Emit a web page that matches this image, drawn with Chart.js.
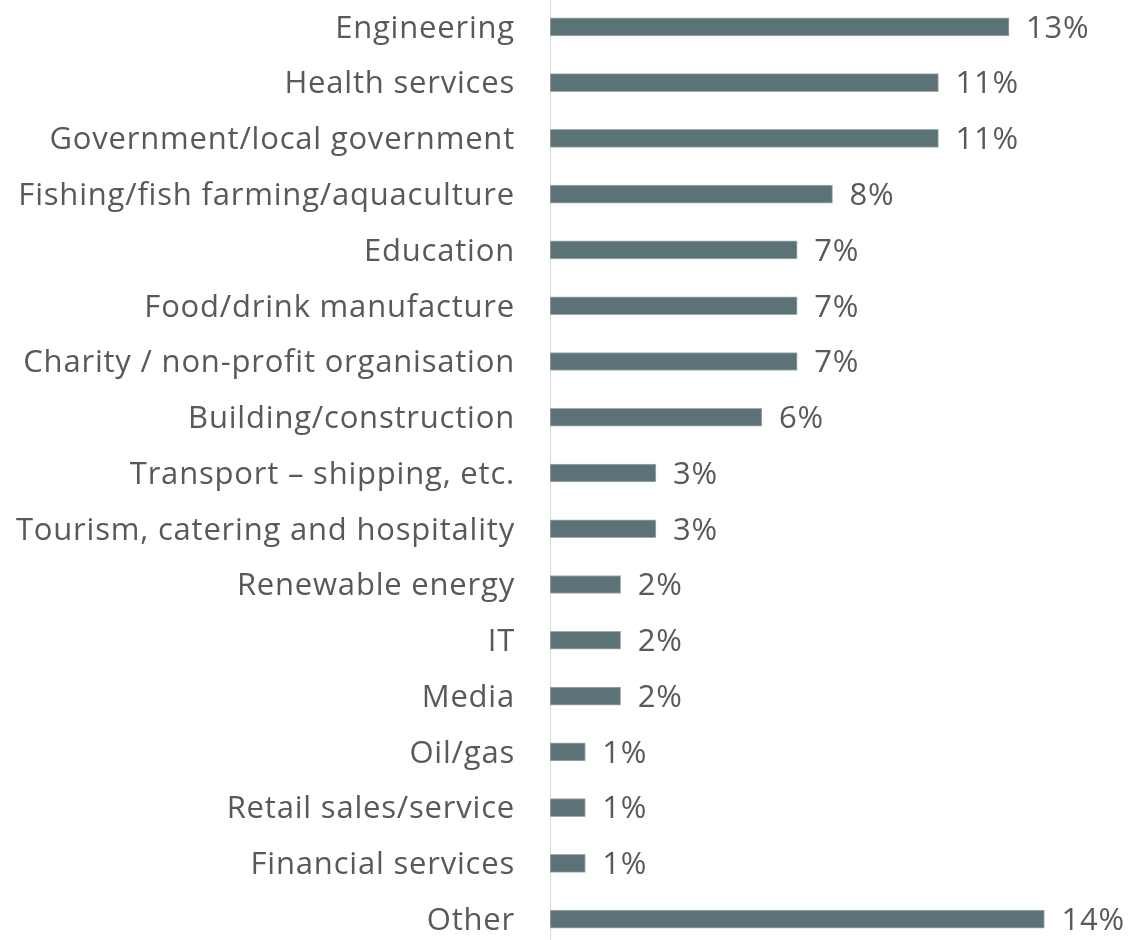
<!DOCTYPE html>
<html>
<head>
<meta charset="utf-8">
<script src="https://cdn.jsdelivr.net/npm/chart.js@4"></script>
<style>
  html, body { margin: 0; padding: 0; background: #fff; overflow: hidden; }
  #wrap { position: absolute; left: 0; top: -1px; width: 1140px; height: 948px; }
</style>
</head>
<body>
<div id="wrap"><canvas id="sectorChart" width="1140" height="948"></canvas></div>
<script>
// ======================
// Data
// ======================
const sectors = [
  "Engineering",
  "Health services",
  "Government/local government",
  "Fishing/fish farming/aquaculture",
  "Education",
  "Food/drink manufacture",
  "Charity / non-profit organisation",
  "Building/construction",
  "Transport – shipping, etc.",
  "Tourism, catering and hospitality",
  "Renewable energy",
  "IT",
  "Media",
  "Oil/gas",
  "Retail sales/service",
  "Financial services",
  "Other"
];
const shares = [13, 11, 11, 8, 7, 7, 7, 6, 3, 3, 2, 2, 2, 1, 1, 1, 14];
const xTicks = { min: 0, max: 16 };

const FONT = "'Open Sans', sans-serif";
const TEXT = "#595959";

// chữ hơi rộng hơn Open Sans, nên giãn nhẹ khoảng cách ký tự
const spacing = {
  id: "spacing",
  beforeDraw(chart) {
    chart.ctx.letterSpacing = "0.8px";
  }
};

// ======================
// Nhãn giá trị ở cuối thanh
// ======================
const valueLabels = {
  id: "valueLabels",
  afterDatasetsDraw(chart) {
    const ctx = chart.ctx;
    const meta = chart.getDatasetMeta(0);
    ctx.save();
    ctx.fillStyle = TEXT;
    ctx.font = "31px " + FONT;
    ctx.textAlign = "left";
    ctx.textBaseline = "middle";
    meta.data.forEach((bar, i) => {
      ctx.fillText(shares[i] + "%", bar.x + 17, bar.y + 2);
    });
    ctx.restore();
  }
};

new Chart(document.getElementById("sectorChart"), {
  type: "bar",
  data: {
    labels: sectors,
    datasets: [{
      data: shares,
      backgroundColor: "#5b7376",
      borderColor: "#a3abad",
      borderWidth: 1,
      borderSkipped: false,
      barThickness: 18
    }]
  },
  options: {
    indexAxis: "y",
    responsive: false,
    animation: false,
    layout: { padding: { left: 0, right: 25, top: 0, bottom: 0 } },
    plugins: {
      legend: { display: false },
      tooltip: { enabled: false }
    },
    scales: {
      x: {
        display: false,
        min: xTicks.min,
        max: xTicks.max
      },
      y: {
        afterFit: scale => {
          scale.width = 550;
          scale.paddingTop = 0;
          scale.paddingBottom = 0;
        },
        grid: { display: false, drawTicks: false },
        border: { display: true, color: "#d9d9d9", width: 1 },
        ticks: {
          padding: 35,
          labelOffset: 2,
          color: TEXT,
          font: { family: FONT, size: 31 }
        }
      }
    }
  },
  plugins: [spacing, valueLabels]
});
</script>
</body>
</html>
